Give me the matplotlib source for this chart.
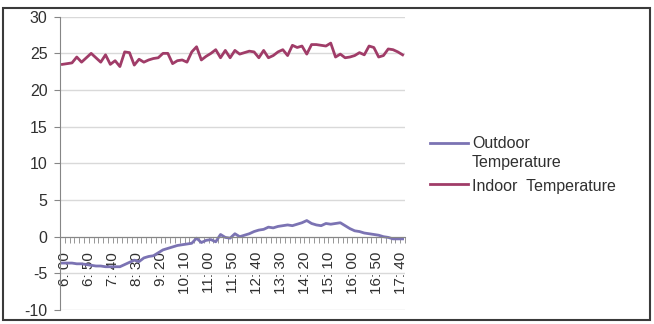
import matplotlib
matplotlib.use('Agg')
import numpy as np
import matplotlib.pyplot as plt
import matplotlib.transforms as mtransforms
from matplotlib.patches import Rectangle
from matplotlib.lines import Line2D

# Data: readings every 10 minutes, 6:00 - 17:50
times = [f'{h}: {m:02d}' for h in range(6, 18) for m in range(0, 60, 10)]

tick_labels = ['6: 00', '6: 50', '7: 40', '8: 30', '9: 20', '10: 10', '11: 00', '11: 50',
               '12: 40', '13: 30', '14: 20', '15: 10', '16: 00', '16: 50', '17: 40']

outdoor = [-3.6, -3.6, -3.6, -3.7, -3.7, -3.8, -3.9, -4.0, -4.0, -4.1,
           -4.1, -4.1, -4.1, -3.8, -3.5, -3.2, -3.4, -2.9, -2.7, -2.6,
           -2.2, -1.8, -1.6, -1.4, -1.2, -1.1, -1.0, -0.9, -0.2, -0.8,
           -0.5, -0.4, -0.7, 0.3, -0.1, -0.2, 0.4, 0.0, 0.2, 0.4,
           0.7, 0.9, 1.0, 1.3, 1.2, 1.4, 1.5, 1.6, 1.5, 1.7,
           1.9, 2.2, 1.8, 1.6, 1.5, 1.8, 1.7, 1.8, 1.9, 1.5,
           1.1, 0.8, 0.7, 0.5, 0.4, 0.3, 0.2, 0.0, -0.1, -0.3,
           -0.3, -0.3]

indoor = [23.5, 23.6, 23.7, 24.5, 23.8, 24.4, 25.0, 24.4, 23.8, 24.8,
          23.5, 24.0, 23.2, 25.2, 25.1, 23.4, 24.2, 23.8, 24.1, 24.3,
          24.4, 25.0, 25.0, 23.6, 24.0, 24.1, 23.8, 25.2, 25.9, 24.1,
          24.6, 25.0, 25.5, 24.4, 25.4, 24.4, 25.4, 24.9, 25.1, 25.3,
          25.2, 24.4, 25.4, 24.4, 24.7, 25.2, 25.5, 24.7, 26.1, 25.8,
          26.0, 24.9, 26.2, 26.2, 26.1, 26.0, 26.4, 24.5, 24.9, 24.4,
          24.5, 24.7, 25.1, 24.8, 26.0, 25.8, 24.5, 24.7, 25.6, 25.5,
          25.2, 24.8]

OUT_COLOR = '#7B73B3'
IN_COLOR = '#A03C68'
AXIS_GRAY = '#868686'
TEXT_COLOR = '#303030'

plt.rcParams['font.family'] = ['Liberation Sans', 'DejaVu Sans']
plt.rcParams['axes.unicode_minus'] = False

W, H = 654, 324
fig = plt.figure(figsize=(W / 100, H / 100), dpi=100)

# outer chart border
fig.add_artist(Rectangle((3 / W, 1 - 320 / H), 647 / W, 312 / H, transform=fig.transFigure,
                         fill=False, edgecolor='#3a3a3a', lw=1.5))

ax = fig.add_axes([60 / W, 1 - 310 / H, 345 / W, (310 - 16.7) / H])
x = np.arange(len(times))
ax.plot(x, outdoor, color=OUT_COLOR, lw=2)
ax.plot(x, indoor, color=IN_COLOR, lw=2)

ax.set_xlim(-0.5, len(times) - 0.5)
ax.set_ylim(-10, 30)
ax.set_yticks(range(-10, 31, 5))
ax.grid(axis='y', color='#D9D9D9', lw=1)
ax.set_axisbelow(True)

for s in ['top', 'right']:
    ax.spines[s].set_visible(False)
ax.spines['left'].set_color(AXIS_GRAY)
ax.spines['bottom'].set_color(AXIS_GRAY)
ax.spines['bottom'].set_position(('data', 0))

ax.set_xticks(x[::5], labels=tick_labels, rotation=90)
ax.set_xticks(np.arange(-0.5, len(times), 1), minor=True)
ax.tick_params(axis='x', which='major', length=0, pad=11, labelsize=11, labelcolor=TEXT_COLOR)
ax.tick_params(axis='x', which='minor', length=4, color=AXIS_GRAY, direction='out')
ax.tick_params(axis='y', length=4, color=AXIS_GRAY, labelsize=11.5, labelcolor=TEXT_COLOR, pad=5)

# nudge rotated labels a little to the right, as in the original
shift = mtransforms.ScaledTranslation(3 / 100, 0, fig.dpi_scale_trans)
for lbl in ax.get_xticklabels():
    lbl.set_transform(lbl.get_transform() + shift)

# legend, drawn by hand so the line sits on the first text row
fig.add_artist(Line2D([430 / W, 468 / W], [1 - 142.7 / H] * 2, color=OUT_COLOR, lw=2))
fig.text(472 / W, 1 - 136 / H, 'Outdoor\nTemperature', va='top', ha='left',
         fontsize=11.5, color=TEXT_COLOR, linespacing=1.3)
fig.add_artist(Line2D([430 / W, 468 / W], [1 - 184 / H] * 2, color=IN_COLOR, lw=2))
fig.text(472 / W, 1 - 186 / H, 'Indoor  Temperature', va='center', ha='left',
         fontsize=11.5, color=TEXT_COLOR)

fig.savefig('out.png', dpi=100)
